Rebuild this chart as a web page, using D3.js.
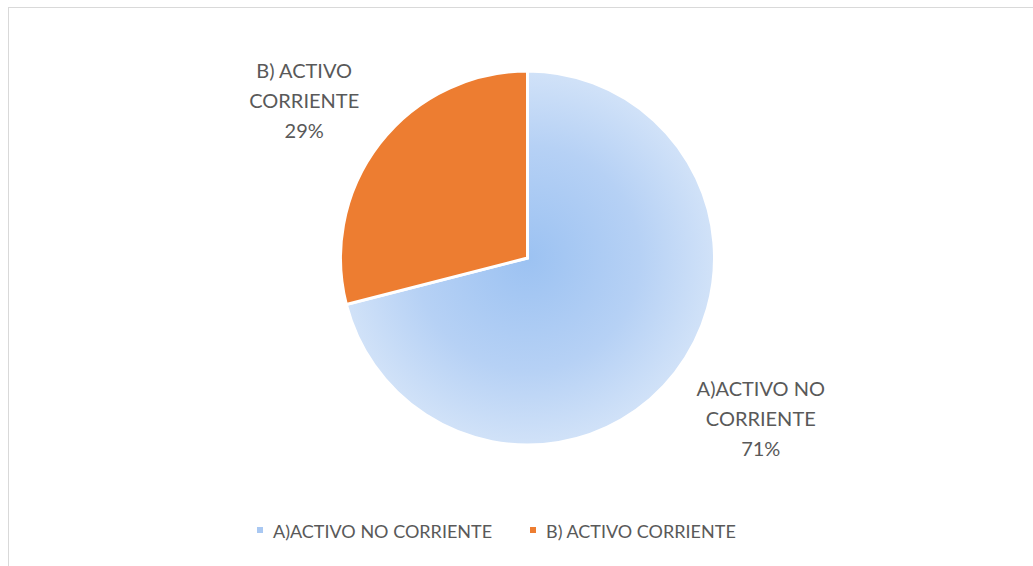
<!DOCTYPE html>
<html>
<head>
<meta charset="utf-8"/>
<title>Activo</title>
<script src="https://cdn.jsdelivr.net/npm/d3@7"></script>
<style>
  html, body { margin: 0; padding: 0; background: #fff; }
  svg { display: block; font-family: Lato, "Open Sans", sans-serif; }
</style>
</head>
<body>
<svg id="chart" width="1033" height="566"></svg>
<script>
var categories = ["A)ACTIVO NO CORRIENTE", "B) ACTIVO CORRIENTE"];
var values = [71, 29];
var labelLines = [["A)ACTIVO NO", "CORRIENTE"], ["B) ACTIVO", "CORRIENTE"]];
var colors = ["url(#blueGrad)", "#ed7d31"];
var legendColors = ["#a9c8f2", "#ed7d31"];

var svg = d3.select("#chart"),
    cx = 527.5, cy = 258, radius = 187;

// chart frame (only left and top edges are inside the picture)
svg.append("rect")
    .attr("x", 8.5).attr("y", 7.5)
    .attr("width", 1100).attr("height", 700)
    .attr("fill", "none")
    .attr("stroke", "#d9d9d9");

var defs = svg.append("defs");
var grad = defs.append("radialGradient")
    .attr("id", "blueGrad")
    .attr("gradientUnits", "userSpaceOnUse")
    .attr("cx", 0).attr("cy", 0).attr("r", radius);
grad.append("stop").attr("offset", "0%").attr("stop-color", "#9cc2f2");
grad.append("stop").attr("offset", "60%").attr("stop-color", "#b6d1f5");
grad.append("stop").attr("offset", "100%").attr("stop-color", "#d1e2f8");

var g = svg.append("g").attr("transform", "translate(" + cx + "," + cy + ")");

var pie = d3.pie().sort(null).value(function(d) { return d; });
var arc = d3.arc().innerRadius(0).outerRadius(radius);
var arcs = pie(values);
var total = d3.sum(values);

g.selectAll("path")
    .data(arcs)
  .enter().append("path")
    .attr("d", arc)
    .attr("fill", function(d, i) { return colors[i]; })
    .attr("stroke", "#fff")
    .attr("stroke-width", 3)
    .attr("stroke-linejoin", "miter");

// data labels outside the pie, on an ellipse around it (like Excel's best fit)
var rx = radius * 1.545, ry = radius * 1.387;
var lineH = 30;
arcs.forEach(function(d, i) {
  var a = (d.startAngle + d.endAngle) / 2;
  var px = 5 + rx * Math.sin(a), py = 2 - ry * Math.cos(a);
  var lines = labelLines[i].concat([Math.round(d.value / total * 100) + "%"]);
  var t = g.append("text")
      .attr("text-anchor", "middle")
      .attr("fill", "#595959")
      .attr("font-size", 20);
  lines.forEach(function(s, k) {
    t.append("tspan")
        .attr("x", px)
        .attr("y", py + (k - 1) * lineH + 7)
        .text(s);
  });
});

// legend
var legend = svg.append("g").attr("transform", "translate(0,538)");
var legendX = [257, 530];
categories.forEach(function(c, i) {
  legend.append("rect")
      .attr("x", legendX[i]).attr("y", -11)
      .attr("width", 6).attr("height", 6)
      .attr("fill", legendColors[i]);
  legend.append("text")
      .attr("x", legendX[i] + 16)
      .attr("y", 0)
      .attr("fill", "#595959")
      .attr("font-size", 18)
      .text(c);
});
</script>
</body>
</html>
